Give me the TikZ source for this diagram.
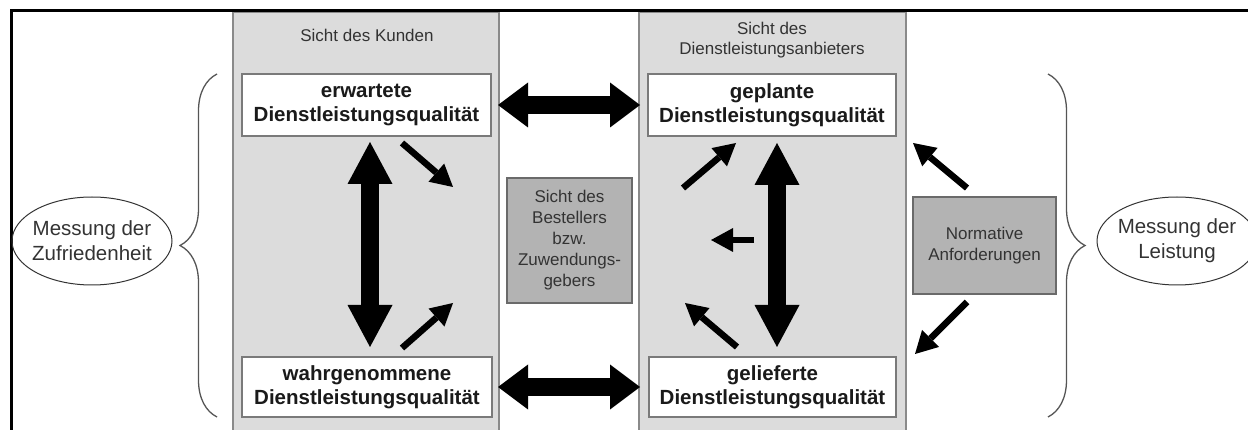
\documentclass[tikz,border=0pt]{standalone}
\usepackage{fontspec}
\setmainfont{Liberation Sans}
\usetikzlibrary{arrows.meta,decorations.pathreplacing,shapes.geometric}
\definecolor{panelgray}{HTML}{DCDCDC}
\definecolor{panelline}{HTML}{8A8A8A}
\definecolor{boxline}{HTML}{7A7A7A}
\definecolor{darkbox}{HTML}{B3B3B3}
\definecolor{darkline}{HTML}{6A6A6A}
\definecolor{txtgray}{HTML}{333333}
\definecolor{boldtxt}{HTML}{1A1A1A}
\definecolor{bracegray}{HTML}{555555}
\begin{document}
\begin{tikzpicture}[x=1pt,y=-1pt,
  panel/.style={fill=panelgray, draw=panelline, line width=1.2pt},
  qbox/.style={draw=boxline, line width=1.5pt, fill=white, inner sep=0pt, align=center, text=boldtxt, font=\fontsize{20.5}{24}\selectfont\bfseries},
  gbox/.style={draw=darkline, line width=1.2pt, fill=darkbox, inner sep=0pt, align=center, text=txtgray, font=\fontsize{17}{21}\selectfont},
  lbl/.style={align=center, text=txtgray, font=\fontsize{17}{20}\selectfont, inner sep=0pt},
  ovaltxt/.style={align=center, text=txtgray, font=\fontsize{20.5}{25}\selectfont, inner sep=0pt},
  oval/.style={ellipse, draw=txtgray, line width=1pt, inner sep=0pt, minimum width=160pt, minimum height=88pt},
  bigarrow/.style={line width=18pt, {Triangle[length=30pt,width=45pt,line width=0pt]}-{Triangle[length=30pt,width=45pt,line width=0pt]}},
  vbigarrow/.style={line width=18pt, {Triangle[length=42pt,width=45pt,line width=0pt]}-{Triangle[length=42pt,width=45pt,line width=0pt]}},
  smallarrow/.style={line width=6.5pt, -{Triangle[length=22pt,width=24pt,line width=0pt]}},
  bracestyle/.style={draw=bracegray, line width=1.3pt, decorate, decoration={brace, amplitude=37pt}}
]
\useasboundingbox (0,0) rectangle (1248,430);
% panels
\path[panel] (233,12) rectangle (499,445);
\path[panel] (639,12) rectangle (906,445);
% frame
\draw[line width=3pt] (11.5,432) -- (11.5,10.5) -- (1250,10.5);
% labels
\node[lbl] (sk) at (367,35) {Sicht des Kunden};
\node[lbl] (sd) at (772,40) {Sicht des\\Dienstleistungsanbieters};
% quality boxes
\node[qbox, minimum width=249pt, minimum height=62pt] (ew) at (366.5,105) {erwartete\\Dienstleistungsqualität};
\node[qbox, minimum width=248pt, minimum height=62pt] (gp) at (772,105) {geplante\\Dienstleistungsqualität};
\node[qbox, minimum width=250pt, minimum height=60pt] (wq) at (367,387) {wahrgenommene\\Dienstleistungsqualität};
\node[qbox, minimum width=247pt, minimum height=60pt] (gl) at (772.5,387) {gelieferte\\Dienstleistungsqualität};
% grey boxes
\node[gbox, minimum width=125pt, minimum height=125pt] (bs) at (569.5,240.5) {Sicht des\\Bestellers\\bzw.\\Zuwendungs-\\gebers};
\node[gbox, minimum width=143pt, minimum height=97pt] (na) at (984.5,245.5) {Normative\\Anforderungen};
% ovals
\node[oval] (mz) at (92,241) {};
\node[ovaltxt] (mzt) at (mz) {Messung der\\Zufriedenheit};
\node[oval] (ml) at (1177,241) {};
\node[ovaltxt] (mlt) at (ml) {Messung der\\Leistung};
% braces
\coordinate (lbt) at (217,74);
\coordinate (lbb) at (217,417);
\coordinate (rbt) at (1048,74);
\coordinate (rbb) at (1048,417);
\draw[bracestyle] (lbb) -- (lbt);
\draw[bracestyle] (rbt) -- (rbb);
% big horizontal arrows
\draw[bigarrow, shorten <=6.25pt, shorten >=7.25pt] (ew.east) -- (gp.west);
\draw[bigarrow, shorten <=5.25pt, shorten >=8.25pt] (wq.east) -- (gl.west);
% big vertical arrows
\coordinate (lv) at (370,0);
\coordinate (rv) at (777,0);
\draw[vbigarrow, shorten <=5.25pt, shorten >=9.25pt] (ew.south -| lv) -- (wq.north -| lv);
\draw[vbigarrow, shorten <=6.25pt, shorten >=9.25pt] (gp.south -| rv) -- (gl.north -| rv);
% small arrows
\coordinate (a1s) at (402,143); \coordinate (a1e) at (453,187);
\coordinate (a2s) at (402,348); \coordinate (a2e) at (453,303);
\coordinate (a3s) at (683,188); \coordinate (a3e) at (736,143);
\coordinate (a4s) at (754,240); \coordinate (a4e) at (711,240);
\coordinate (a5s) at (737,347); \coordinate (a5e) at (685,303);
\coordinate (a6s) at (967,188); \coordinate (a6e) at (913,143);
\coordinate (a7s) at (967,302); \coordinate (a7e) at (915,354);
\foreach \i in {1,...,7} \draw[smallarrow] (a\i s) -- (a\i e);
\end{tikzpicture}
\end{document}
